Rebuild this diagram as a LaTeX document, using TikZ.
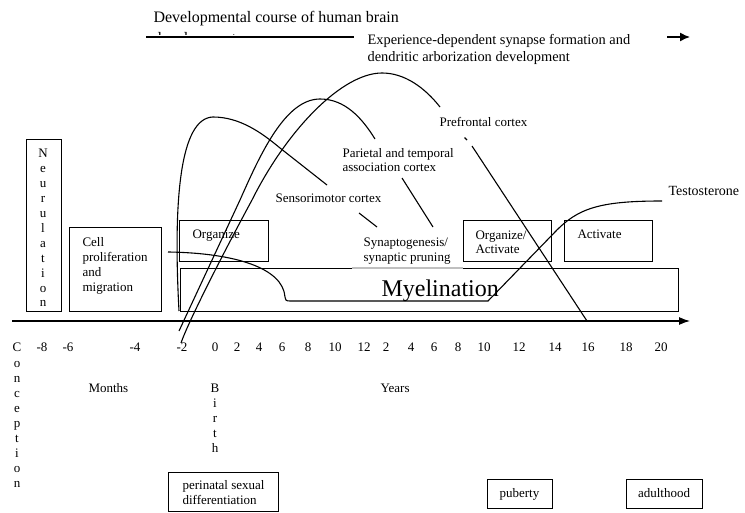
\documentclass[tikz,border=0pt]{standalone}
\usepackage{fontspec}
\setmainfont{Liberation Serif}
\usetikzlibrary{arrows.meta}
\begin{document}
\begin{tikzpicture}[x=1pt,y=-1pt,line width=1.1pt,
  box/.style={draw,line width=1.2pt,inner sep=0,anchor=north west},
  txt/.style={inner sep=0,font=\fontsize{13}{15}\selectfont},
  btxt/.style={txt,anchor=base west},
  ctxt/.style={txt,anchor=base},
  ttl/.style={inner sep=0,anchor=base west,font=\fontsize{16}{19}\selectfont},
  curve/.style={line width=1.1pt},
  axisarrow/.style={-{Latex[length=11pt,width=8pt]},line width=1.2pt}]
\useasboundingbox (0,0) rectangle (745,513);

% title and header
\node[ttl] (title) at (153,23) {Developmental course of human brain};
\begin{scope}
  \clip (140,31) rectangle (420,35);
  \node[ttl] (title2) at (153,44) {development};
\end{scope}
\coordinate (tl1) at (146,37);
\coordinate (tl2) at (354,37);
\draw[line width=1.1pt] (tl1) -- (tl2);
\node[btxt,font=\fontsize{14.4}{17}\selectfont] (exp1) at (367,45) {Experience-dependent synapse formation and};
\node[btxt,font=\fontsize{14.4}{17}\selectfont] (exp2) at (367,62) {dendritic arborization development};
\coordinate (ta1) at (667,37);
\coordinate (ta2) at (690,37);
\draw[-{Latex[length=10pt,width=9pt]},line width=1.4pt] (ta1) -- (ta2);

% boxes
\node[box,minimum width=35pt,minimum height=172pt] (neubox) at (26,139) {};
\node[box,minimum width=92pt,minimum height=84pt] (cellbox) at (69,227) {};
\node[box,minimum width=89pt,minimum height=41pt] (orgbox) at (179,220) {};
\node[box,minimum width=498pt,minimum height=43pt] (myelbox) at (180,268) {};
\node[box,minimum width=88pt,minimum height=41pt] (oabox) at (463,220) {};
\node[box,minimum width=88pt,minimum height=41pt] (actbox) at (564,220) {};
\node[box,minimum width=110pt,minimum height=39pt] (peribox) at (168,472) {};
\node[box,minimum width=65pt,minimum height=29pt] (pubbox) at (487,479) {};
\node[box,minimum width=76pt,minimum height=29pt] (adultbox) at (626,479) {};
\coordinate (mg1) at (352,268);
\coordinate (mg2) at (463,268);
\draw[white!75!black,line width=1.2pt] (mg1) -- (mg2);

% box texts
\foreach \ch [count=\i] in {N,e,u,r,u,l,a,t,i,o,n}
  \node[ctxt] (neu\i) at (43,{158+14.9*(\i-1)}) {\ch};
\node[txt,anchor=north west,align=left] (celltxt) at (82,237) {Cell\\proliferation\\and\\migration};
\node[btxt] (orgtxt) at (192,239) {Organize};
\node[txt,anchor=north west,align=left,font=\fontsize{13}{14}\selectfont] (oatxt) at (475,230) {Organize/\\Activate};
\node[btxt] (acttxt) at (577,239) {Activate};
\node[inner sep=0,anchor=base west,font=\fontsize{24}{28}\selectfont] (myeltxt) at (381,297) {Myelination};
\node[txt,anchor=north west,align=left] (peritxt) at (182,480) {perinatal sexual\\differentiation};
\node[ctxt] (pubtxt) at (519.5,497) {puberty};
\node[ctxt] (adulttxt) at (664,497) {adulthood};

% labels
\node[btxt] (sens) at (275,203) {Sensorimotor cortex};
\node[txt,anchor=north west,align=left,font=\fontsize{13}{14}\selectfont] (pariet) at (342,148) {Parietal and temporal\\association cortex};
\node[btxt] (pref) at (439,127) {Prefrontal cortex};
\node[txt,anchor=north west,align=left] (synap) at (363,237) {Synaptogenesis/\\synaptic pruning};
\node[btxt,font=\fontsize{14}{16}\selectfont] (testo) at (668,196) {Testosterone};

% axis
\coordinate (axL) at (12,321);
\coordinate (axR) at (690,321);
\draw[axisarrow] (axL) -- (axR);
\foreach \lab/\xx in {-8/42,-6/68,-4/135,-2/182,0/215,2/237,4/259,6/282,8/308,10/335,12/364,2/386,4/411,6/434,8/458,10/484,12/519,14/555,16/588,18/626,20/661}
  \node[ctxt] at (\xx,352) {\lab};
\foreach \ch [count=\i] in {C,o,n,c,e,p,t,i,o,n}
  \node[ctxt] (con\i) at (17,{352+15.1*(\i-1)}) {\ch};
\foreach \ch [count=\i] in {B,i,r,t,h}
  \node[ctxt] (bir\i) at (215,{392+15*(\i-1)}) {\ch};
\node[btxt] (months) at (88,392) {Months};
\node[btxt] (years) at (380,392) {Years};

% curves
\draw[curve] (179,311) .. controls (173,200) and (180,118) .. (213,117)
  .. controls (240,117) and (262,133) .. (280,148) -- (327,185);
\draw[curve] (179,331) -- (240,200) .. controls (260,155) and (285,99) .. (320,99)
  .. controls (345,99) and (362,118) .. (375,139);
\draw[curve] (181,343) .. controls (189,320) and (225,250) .. (252,200)
  .. controls (287,130) and (342,73) .. (382,73)
  .. controls (405,73) and (425,88) .. (440,107);
% hormone curve
\draw[curve] (168,252) .. controls (235,253) and (283,268) .. (285,297)
  .. controls (285,300) and (286,301) .. (290,301) -- (488,301) -- (555,232)
  .. controls (578,208) and (600,201) .. (662,201);
% pointer lines
\coordinate (p1a) at (359,213); \coordinate (p1b) at (377,227);
\draw[curve] (p1a) -- (p1b);
\coordinate (p2a) at (402,178); \coordinate (p2b) at (433,227);
\draw[curve] (p2a) -- (p2b);
\coordinate (p3a) at (464.5,137.5); \coordinate (p3b) at (467,140);
\draw[curve] (p3a) -- (p3b);
\coordinate (p4a) at (472,146); \coordinate (p4b) at (587,321);
\draw[curve] (p4a) -- (p4b);
\end{tikzpicture}
\end{document}
